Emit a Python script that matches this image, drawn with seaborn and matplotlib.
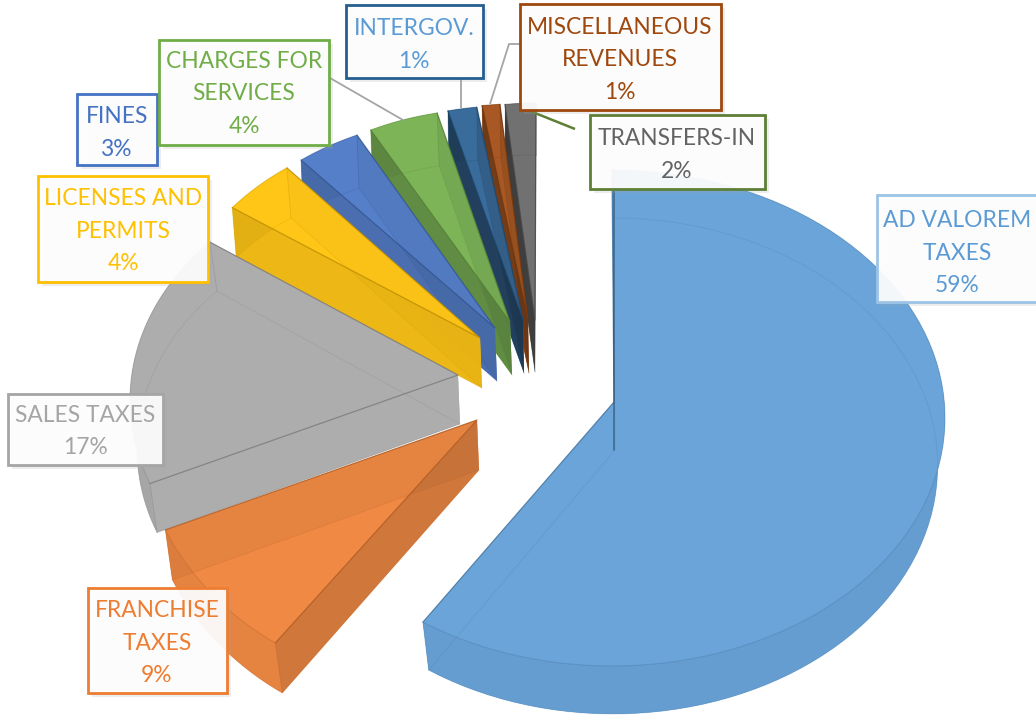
import numpy as np
import matplotlib
matplotlib.use("Agg")
import matplotlib.pyplot as plt
import matplotlib.patheffects as pe
from matplotlib.patches import Rectangle
import seaborn as sns

# ---- data ----
categories = [["AD VALOREM", "TAXES"], ["FRANCHISE", "TAXES"], ["SALES TAXES"],
              ["LICENSES AND", "PERMITS"], ["FINES"], ["CHARGES FOR", "SERVICES"],
              ["INTERGOV."], ["MISCELLANEOUS", "REVENUES"], ["TRANSFERS-IN"]]
values = [59, 9, 17, 4, 3, 4, 1, 1, 2]
slice_hex = ["#5B9BD5", "#ED7D31", "#A5A5A5", "#FFC000", "#4472C4",
             "#70AD47", "#255E91", "#9E480E", "#636363"]

# ---- style / layout ----
sns.set_theme(style="white")
plt.rcParams["font.family"] = ["Lato", "DejaVu Sans"]
palette = sns.color_palette(slice_hex)
text_hex = ["#5B9BD5", "#ED7D31", "#A5A5A5", "#FFC000", "#4472C4", "#70AD47",
            "#5B9BD5", "#9E480E", "#636363"]
edge_hex = ["#9DC3E6", "#ED7D31", "#A5A5A5", "#FFC000", "#4472C4", "#70AD47",
            "#255E91", "#9E480E", "#5E7F36"]

# apex x, y; ellipse cx, cy, rx, ry; angle offsets at both ends; wall height, wall shift,
# horizontal shrink of the lower face, shading of the facing radial wall
geom = [
    (614, 402, 612, 418, 333, 248, 0.0, 2.2, 48, 1, 0.975, 0.0),
    (477, 420, 435, 415, 298, 270, 0.0, 0.0, 50, 7, 1.0, 0.13),
    (458, 375, 420, 400, 290, 229, 3.8, 7.6, 49, 7, 1.0, 0.0),
    (480, 338, 460, 340, 289, 215, 2.0, 2.8, 50, 4, 1.0, 0.07),
    (495, 328, 470, 330, 280, 213, 2.5, 5.0, 53, 2, 1.0, 0.13),
    (510, 322, 490, 325, 277, 216, 3.3, 3.4, 53, 2, 1.0, 0.22),
    (523, 320, 505, 322, 270, 216, 2.2, 4.8, 53, 1, 1.0, 0.40),
    (528, 320, 515, 320, 270, 216, 3.8, 4.0, 53, 1, 1.0, 0.30),
    (535, 320, 536, 320, 270, 217, 0.6, 0.0, 52, 0, 1.0, 0.45),
]
# box left, top, right, bottom; text centre, first line y, line pitch
boxes = [
    (877, 195, 1040, 302, 957, 220.5, 32.5),
    (88, 588, 227, 693, 157, 610.5, 32.5),
    (8, 394, 163, 465, 85, 415.5, 32.5),
    (38, 176, 208, 282, 123, 198.5, 32.5),
    (77, 94, 157, 165, 117, 116.5, 32.5),
    (159, 40, 329, 145, 244, 61.5, 32.5),
    (346, 5, 483, 78, 414, 28.5, 32.5),
    (520, 4, 721, 110, 620, 27.5, 32.5),
    (590, 115, 765, 189, 677, 138.5, 32.5),
]
leaders = [
    ([330, 403], [78, 120], "#A5A5A5", 1.3),
    ([461, 461], [78, 108], "#A5A5A5", 1.3),
    ([520, 509, 490], [44, 44, 104], "#A5A5A5", 1.3),
    ([520, 575], [107, 129], "#5E7F36", 1.8),
]

fig = plt.figure(figsize=(10.36, 7.19), dpi=100)
ax = fig.add_axes([0, 0, 1, 1])
ax.set_xlim(0, 1036)
ax.set_ylim(719, 0)
ax.axis("off")
sns.despine(ax=ax, left=True, bottom=True)


def tint(c, w):
    return tuple(v * (1 - w) + w for v in c)


def shade(c, f):
    return tuple(v * f for v in c)


bounds = np.concatenate([[0], np.cumsum(values)]) / np.sum(values) * 360
z = 1
for i in range(len(values) - 1, -1, -1):
    ax_, ay, cx, cy, rx, ry, d0, d1, th, sx, shrink, dark = geom[i]
    a = np.radians(np.linspace(bounds[i] + d0, bounds[i + 1] + d1, 90))
    x = cx + rx * np.sin(a)
    y = cy - ry * np.cos(a)
    c = palette[i]
    flat = tint(c, 0.09)
    edge = shade(c, 0.8)
    top_x = np.r_[ax_, x]
    top_y = np.r_[ay, y]
    bot_x = ax_ + (top_x - ax_) * shrink + sx
    bot_x[0] = ax_ + min(sx, 2)
    bot_y = top_y + th
    walls = {j: ([top_x[0], top_x[j], bot_x[j], bot_x[0]],
                 [top_y[0], top_y[j], bot_y[j], bot_y[0]]) for j in (1, -1)}
    # solid lower body of the slice
    ax.fill(bot_x, bot_y, color=flat, lw=0, alpha=0.97, zorder=z)
    for j in (1, -1):
        ax.fill(*walls[j], color=flat, lw=0, alpha=0.97, zorder=z)
    ax.fill(np.r_[x, bot_x[1:][::-1]], np.r_[y, bot_y[1:][::-1]], color=flat, lw=0, alpha=0.97, zorder=z)
    z += 1
    # outer wall, slightly darker, then the upper face over it
    ax.fill(np.r_[x, bot_x[1:][::-1]], np.r_[y, bot_y[1:][::-1]], color="black", alpha=0.04, lw=0, zorder=z)
    z += 1
    ax.fill(top_x, top_y, color=flat, lw=0, zorder=z)
    z += 1
    # far radial wall seen through the slice, near radial wall in full
    ax.fill(*walls[-1], color="black", alpha=dark * 0.3, lw=0, zorder=z)
    ax.fill(*walls[1], color="black", alpha=dark, lw=0, zorder=z)
    z += 1
    # faint hidden edges of the lower face
    ax.plot(np.r_[bot_x, bot_x[0]], np.r_[bot_y, bot_y[0]], color=edge, lw=0.7, alpha=0.22, zorder=z)
    for j in (1, -1):
        ax.plot(walls[j][0][1:3], walls[j][1][1:3], color=edge, lw=0.7, alpha=0.35, zorder=z)
    # upper outline
    ax.plot(top_x[1:], top_y[1:], color=edge, lw=0.8, alpha=0.4, zorder=z)
    ax.plot([top_x[-1], top_x[0], top_x[1]], [top_y[-1], top_y[0], top_y[1]],
            color=shade(c, 0.72), lw=0.9, alpha=0.75, zorder=z)
    z += 1
    if i == 0:
        # the first radial wall is seen edge-on
        ax.plot(walls[1][0][:1] * 2, [top_y[1], bot_y[0]], color=shade(c, 0.4), lw=1.2, alpha=0.55, zorder=z)
        z += 1

for lx, ly, lc, lw in leaders:
    ax.plot(lx, ly, color=lc, lw=lw, zorder=z, solid_capstyle="butt")
z += 1

for i, (l, t, r, b, tx, ty, pitch) in enumerate(boxes):
    rect = Rectangle((l, t), r - l, b - t, facecolor=(1, 1, 1, 0.92),
                     edgecolor=edge_hex[i], lw=2.0, zorder=z)
    rect.set_path_effects([pe.SimplePatchShadow(offset=(3, -3), shadow_rgbFace=(0.65, 0.65, 0.65), alpha=0.2),
                           pe.SimplePatchShadow(offset=(1.5, -1.5), shadow_rgbFace=(0.65, 0.65, 0.65), alpha=0.25),
                           pe.Normal()])
    ax.add_patch(rect)
    lines = categories[i] + [f"{values[i]}%"]
    for k, s in enumerate(lines):
        ax.text(tx, ty + k * pitch, s, color=text_hex[i], fontsize=16.4, ha="center",
                va="center", zorder=z + 1)
    z += 2

fig.savefig("out.png", dpi=100)
